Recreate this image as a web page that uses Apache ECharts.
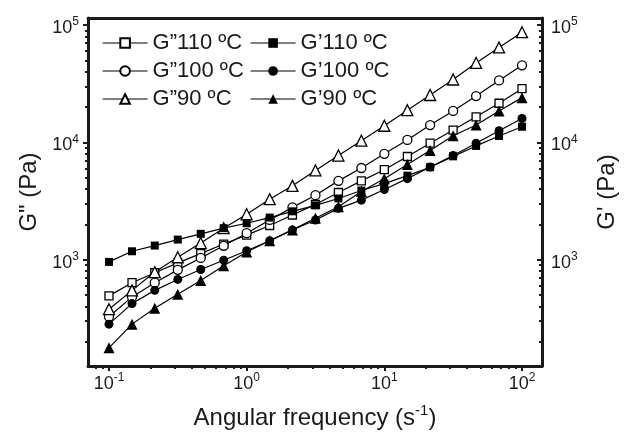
<!DOCTYPE html>
<html>
<head>
<meta charset="utf-8">
<script src="https://cdn.jsdelivr.net/npm/echarts@6/dist/echarts.min.js"></script>
<style>html,body{margin:0;padding:0;background:#fff}#c{width:630px;height:438px}</style>
</head>
<body>
<div id="c"></div>
<script>
// Angular frequency (s^-1)
const freq = [0.1, 0.147, 0.215, 0.316, 0.464, 0.681, 1, 1.47, 2.15, 3.16, 4.64, 6.81, 10, 14.7, 21.5, 31.6, 46.4, 68.1, 100];
// G'' (loss modulus), Pa
const gpp110 = [491, 636, 773, 938, 1124, 1358, 1617, 1953, 2400, 2955, 3733, 4690, 5840, 7566, 9820, 12710, 16480, 21510, 28630];
const gpp100 = [326, 481, 636, 818, 1033, 1313, 1681, 2178, 2788, 3540, 4690, 6036, 7974, 10470, 14020, 18500, 24780, 33650, 45290];
const gpp90  = [378, 547, 783, 1048, 1384, 1853, 2433, 3275, 4253, 5757, 7709, 10320, 13830, 18760, 25290, 34280, 47450, 64290, 86750];
// G' (storage modulus), Pa
const gp110 = [956, 1178, 1318, 1482, 1659, 1853, 2042, 2282, 2579, 2898, 3321, 3880, 4446, 5196, 6132, 7589, 9311, 11320, 13560];
const gp100 = [282, 422, 547, 678, 823, 989, 1191, 1448, 1792, 2178, 2734, 3214, 3957, 4898, 6152, 7709, 9820, 12540, 15960];
const gp90  = [177, 282, 385, 506, 665, 885, 1162, 1448, 1792, 2250, 2826, 3802, 4898, 6471, 8497, 11380, 14020, 18500, 24020];

const names = ['G\u201d110 \u00baC', 'G\u201d100 \u00baC', 'G\u201d90 \u00baC', 'G\u2019110 \u00baC', 'G\u2019100 \u00baC', 'G\u201990 \u00baC'];
const xMajor = [0.1, 1, 10, 100];
const xMinor = [0.08, 0.09, 0.2, 0.3, 0.4, 0.5, 0.6, 0.7, 0.8, 0.9, 2, 3, 4, 5, 6, 7, 8, 9, 20, 30, 40, 50, 60, 70, 80, 90];
const yMajor = [1000, 10000, 100000];
const yMinor = [200, 300, 400, 500, 600, 700, 800, 900, 2000, 3000, 4000, 5000, 6000, 7000, 8000, 9000, 20000, 30000, 40000, 50000, 60000, 70000, 80000, 90000];

const X_MIN = 0.0704, X_MAX = 139.7, Y_MIN = 124, Y_MAX = 114600;
const FONT = '"Liberation Sans", Arial, sans-serif';
const INK = '#1a1a1a';

function pow10Label(v) {
  const e = Math.round(Math.log10(v));
  return '{b|10}{s|' + e + '}';
}
const rich = {
  b: {fontSize: 18, fontFamily: FONT, color: INK, lineHeight: 24},
  s: {fontSize: 12, fontFamily: FONT, color: INK, lineHeight: 12, verticalAlign: 'top'}
};

function logAxis(extra) {
  return Object.assign({
    type: 'log', logBase: 10, min: extra.min, max: extra.max,
    splitLine: {show: false}, minorTick: {show: false}
  }, extra);
}

const chart = echarts.init(document.getElementById('c'), null, {renderer: 'canvas'});
const frameLine = {show: true, onZero: false, lineStyle: {color: INK, width: 3}};

const xAxes = [
  logAxis({min: X_MIN, max: X_MAX, position: 'bottom', axisLine: frameLine,
    axisTick: {show: true, inside: false, length: 5, customValues: xMajor, lineStyle: {color: INK, width: 2}},
    axisLabel: {show: true, customValues: xMajor, formatter: pow10Label, rich: rich, margin: 6},
    name: 'Angular frequency (s{s|-1})', nameLocation: 'middle', nameGap: 37,
    nameTextStyle: {fontSize: 24, fontFamily: FONT, color: INK, lineHeight: 30,
      rich: {s: {fontSize: 15, fontFamily: FONT, color: INK, lineHeight: 15, verticalAlign: 'top'}}}
  }),
  logAxis({min: X_MIN, max: X_MAX, position: 'bottom', axisLine: {show: false},
    axisTick: {show: true, inside: false, length: 3, customValues: xMinor, lineStyle: {color: INK, width: 2}},
    axisLabel: {show: false}}),
  logAxis({min: X_MIN, max: X_MAX, position: 'top', axisLine: frameLine,
    axisTick: {show: false}, axisLabel: {show: false}})
];
const yAxes = [
  logAxis({min: Y_MIN, max: Y_MAX, position: 'left', axisLine: frameLine,
    axisTick: {show: true, inside: false, length: 5, customValues: yMajor, lineStyle: {color: INK, width: 2}},
    axisLabel: {show: true, customValues: yMajor, formatter: pow10Label, rich: rich, margin: 9, padding: [6, 0, 0, 0]},
    name: 'G" (Pa)', nameLocation: 'middle', nameGap: 46, nameRotate: 90,
    nameTextStyle: {fontSize: 24, fontFamily: FONT, color: INK}
  }),
  logAxis({min: Y_MIN, max: Y_MAX, position: 'left', axisLine: {show: false},
    axisTick: {show: true, inside: false, length: 3, customValues: yMinor, lineStyle: {color: INK, width: 2}},
    axisLabel: {show: false}}),
  logAxis({min: Y_MIN, max: Y_MAX, position: 'right', axisLine: frameLine,
    axisTick: {show: true, inside: true, length: 5, customValues: yMajor, lineStyle: {color: INK, width: 2}},
    axisLabel: {show: true, customValues: yMajor, formatter: pow10Label, rich: rich, margin: 9, padding: [6, 0, 0, 0]},
    name: "G' (Pa)", nameLocation: 'middle', nameGap: 53, nameRotate: 90,
    nameTextStyle: {fontSize: 24, fontFamily: FONT, color: INK}
  }),
  logAxis({min: Y_MIN, max: Y_MAX, position: 'right', axisLine: {show: false},
    axisTick: {show: true, inside: true, length: 3, customValues: yMinor, lineStyle: {color: INK, width: 2}},
    axisLabel: {show: false}})
];

function mk(name, vals, symbol, size, open) {
  return {
    name: name, type: 'line', xAxisIndex: 0, yAxisIndex: 0,
    data: freq.map((f, i) => [f, vals[i]]),
    symbol: symbol, symbolSize: size, showAllSymbol: true,
    lineStyle: {color: '#000', width: 1.2},
    itemStyle: open ? {color: '#fff', borderColor: '#000', borderWidth: 1.3} : {color: '#000', borderColor: '#000', borderWidth: 0},
    color: open ? '#fff' : '#000',
    emphasis: {disabled: true}, animation: false, clip: false
  };
}

const legendCommon = {
  orient: 'vertical', top: 32, padding: 0, itemWidth: 45, itemHeight: 12, itemGap: 6,
  textStyle: {fontSize: 22, fontFamily: FONT, color: INK, lineHeight: 21},
  selectedMode: false, itemStyle: {}, lineStyle: {color: '#000', width: 1.2}
};

chart.setOption({
  animation: false,
  backgroundColor: '#fff',
  grid: {left: 88, right: 88, top: 18, bottom: 69, containLabel: false},
  legend: [
    Object.assign({}, legendCommon, {left: 102, data: [names[0], names[1], names[2]]}),
    Object.assign({}, legendCommon, {left: 250, data: [names[3], names[4], names[5]]})
  ],
  xAxis: xAxes,
  yAxis: yAxes,
  series: [
    mk(names[0], gpp110, 'rect', 8, true),
    mk(names[1], gpp100, 'circle', 9, true),
    mk(names[2], gpp90, 'triangle', 11, true),
    mk(names[3], gp110, 'rect', 8, false),
    mk(names[4], gp100, 'circle', 9, false),
    mk(names[5], gp90, 'triangle', 11, false)
  ]
});
</script>
</body>
</html>
